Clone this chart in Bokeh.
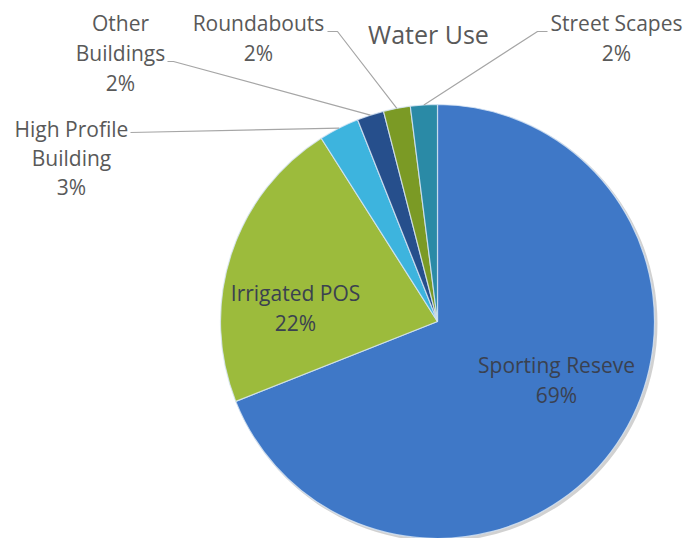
import numpy as np
from bokeh.plotting import figure
from bokeh.models import Range1d
from bokeh.core.properties import value
from bokeh.embed import file_html
from bokeh.resources import INLINE

# ---- data ----
categories = ["Sporting Reseve", "Irrigated POS", "High Profile Building",
              "Other Buildings", "Roundabouts", "Street Scapes"]
percentages = [69, 22, 3, 2, 2, 2]
colors = ["#3F78C7", "#9CBB3C", "#3DB4DE", "#264F8C", "#7B9A25", "#2A8AA6"]
title = "Water Use"

# ---- layout (screen pixel coordinates) ----
W, H = 690, 538
CX, CY, R = 437, 321, 217
FONT = "Open Sans"


def Y(py):
    return H - py


label_layout = {
    "Sporting Reseve": dict(x=556, ys=[364, 394], lines=["Sporting Reseve"], inside=True),
    "Irrigated POS": dict(x=295, ys=[292, 322], lines=["Irrigated POS"], inside=True),
    "High Profile Building": dict(x=71, ys=[128, 157, 186], lines=["High Profile", "Building"],
                                  leader=[(130, 132)]),
    "Other Buildings": dict(x=120, ys=[22, 52, 82], lines=["Other", "Buildings"],
                            leader=[(167, 61), (173, 61)]),
    "Roundabouts": dict(x=258, ys=[22, 52], lines=["Roundabouts"],
                        leader=[(327, 31), (337, 31)]),
    "Street Scapes": dict(x=616, ys=[22, 52], lines=["Street Scapes"],
                          leader=[(547, 31), (537, 31)]),
}

p = figure(width=W, height=H, x_range=Range1d(0, W), y_range=Range1d(0, H),
           output_backend="svg", toolbar_location=None, min_border=0)
p.axis.visible = False
p.grid.visible = False
p.outline_line_color = None
p.background_fill_color = "white"
p.border_fill_color = "white"

frac = np.array(percentages, dtype=float) / sum(percentages)
cum = np.concatenate([[0], np.cumsum(frac)])
starts = np.pi / 2 - 2 * np.pi * cum[:-1]
ends = np.pi / 2 - 2 * np.pi * cum[1:]

# soft shadow
p.circle(x=CX + 2, y=Y(CY + 2), radius=R + 1, fill_color="#000000", fill_alpha=0.18,
         line_color=None)

p.wedge(x=CX, y=Y(CY), radius=R, start_angle=starts, end_angle=ends, direction="clock",
        fill_color=colors, line_color="#d8e6f5", line_width=1.2, line_alpha=0.8)

# labels
for i, cat in enumerate(categories):
    lay = label_layout[cat]
    lines = lay["lines"] + [f"{percentages[i]}%"]
    col = "#3a4150" if lay.get("inside") else "#595959"
    p.text(x=[lay["x"]] * len(lines), y=[Y(v) for v in lay["ys"]], text=lines,
           text_font=value(FONT), text_font_size="21px", text_color=col,
           text_align="center", text_baseline="middle")
    if "leader" in lay:
        mid = (cum[i] + cum[i + 1]) / 2 * 2 * np.pi
        ex = CX + R * np.sin(mid)
        ey = CY - R * np.cos(mid)
        pts = lay["leader"] + [(ex, ey)]
        p.line(x=[a for a, b in pts], y=[Y(b) for a, b in pts], line_color="#a6a6a6",
               line_width=1.2)

p.text(x=[428], y=[Y(33)], text=[title], text_font=value(FONT), text_font_size="25px",
       text_color="#595959", text_align="center", text_baseline="middle")

open("out.html", "w").write(file_html(p, INLINE))
